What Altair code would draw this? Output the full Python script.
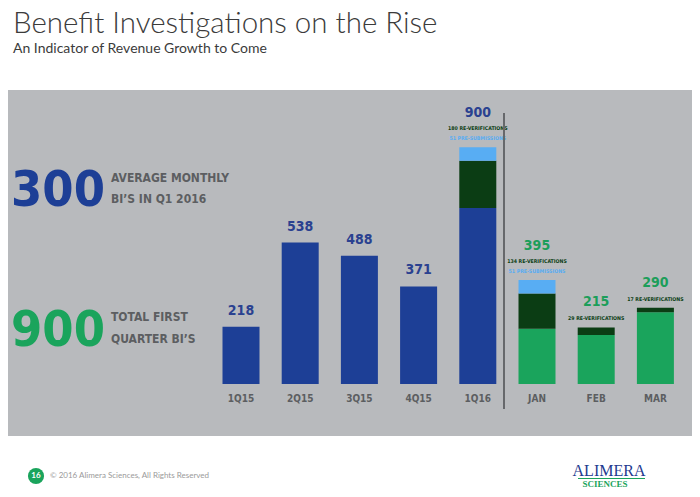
import altair as alt
import pandas as pd

# ---- data ----
categories = ["1Q15", "2Q15", "3Q15", "4Q15", "1Q16", "JAN", "FEB", "MAR"]
groups = ["quarter", "quarter", "quarter", "quarter", "quarter", "month", "month", "month"]
totals = [218, 538, 488, 371, 900, 395, 215, 290]
re_verifications = [0, 0, 0, 0, 180, 134, 29, 17]
pre_submissions = [0, 0, 0, 0, 51, 51, 0, 0]

title_text = "Benefit Investigations on the Rise"
subtitle_text = "An Indicator of Revenue Growth to Come"
footer_text = "\u00a9 2016 Alimera Sciences, All Rights Reserved"
page_number = "16"

# ---- styles ----
NARROW = "DejaVu Sans Condensed, Roboto, sans-serif"
LIGHT = "Lato, Open Sans, sans-serif"
SERIF = "Liberation Serif, DejaVu Serif, serif"
BLUE = "#1d3f96"
BLUE_TXT = "#2a4190"
DKGREEN = "#0b3d14"
LTGREEN = "#1aa45c"
GREEN_TXT = "#1c9e5a"
LTBLUE = "#58adf3"
GRAY_BG = "#b8babd"
GRAY_TXT = "#5c5e61"

W, H = 684, 481
Y_DOMAIN = [0, 1000]
Y_RANGE = [376, 113]
units_per_px = (Y_DOMAIN[1] - Y_DOMAIN[0]) / (Y_RANGE[0] - Y_RANGE[1])

x_scale = alt.Scale(domain=categories, range=[203.4, 677.0], paddingInner=0.375, paddingOuter=0.1875)
y_scale = alt.Scale(domain=Y_DOMAIN, range=Y_RANGE)

# ---- segment table ----
rows = []
for c, g, t, r, p in zip(categories, groups, totals, re_verifications, pre_submissions):
    base = t - r - p
    seg_base = "Quarterly BIs" if g == "quarter" else "Monthly BIs"
    rows.append({"cat": c, "seg": seg_base, "y0": 0, "y1": base})
    if r:
        rows.append({"cat": c, "seg": "Re-verifications", "y0": base, "y1": base + r})
    if p:
        rows.append({"cat": c, "seg": "Pre-submissions", "y0": base + r, "y1": t})
seg_df = pd.DataFrame(rows)

# ---- label table ----
lab_rows = []
for c, g, t, r, p in zip(categories, groups, totals, re_verifications, pre_submissions):
    n_sub = int(r > 0) + int(p > 0)
    lab_rows.append({"cat": c, "kind": "total_" + g, "text": str(t),
                     "ly": t + (16 + 9 * n_sub) * units_per_px})
    if r:
        lab_rows.append({"cat": c, "kind": "re", "text": f"{r} RE-VERIFICATIONS",
                         "ly": t + (9 + 10 * int(p > 0)) * units_per_px})
    if p:
        lab_rows.append({"cat": c, "kind": "pre", "text": f"{p} PRE-SUBMISSIONS",
                         "ly": t + 9 * units_per_px})
lab_df = pd.DataFrame(lab_rows)
cat_df = pd.DataFrame({"cat": categories})

q1_total = sum(t for t, g in zip(totals, groups) if g == "month")
q1_months = sum(1 for g in groups if g == "month")
q1_avg = q1_total // q1_months

one = pd.DataFrame({"k": [0]})

# ---- layers ----
bg = alt.Chart(one).mark_rect(color=GRAY_BG).encode(
    x=alt.value(0), x2=alt.value(W), y=alt.value(82), y2=alt.value(428))

bars = alt.Chart(seg_df).mark_bar().encode(
    x=alt.X("cat:N", scale=x_scale, axis=None),
    y=alt.Y("y0:Q", scale=y_scale, axis=None),
    y2="y1:Q",
    color=alt.Color("seg:N", legend=None, scale=alt.Scale(
        domain=["Quarterly BIs", "Monthly BIs", "Re-verifications", "Pre-submissions"],
        range=[BLUE, LTGREEN, DKGREEN, LTBLUE])),
)

def label_layer(kind, color, size):
    return alt.Chart(lab_df).transform_filter(alt.datum.kind == kind).mark_text(
        font=NARROW, fontWeight="bold", fontSize=size, color=color, baseline="middle", align="center"
    ).encode(x=alt.X("cat:N", scale=x_scale, axis=None),
             y=alt.Y("ly:Q", scale=y_scale, axis=None), text="text:N")

lab_q = label_layer("total_quarter", BLUE_TXT, 14)
lab_m = label_layer("total_month", GREEN_TXT, 14)
lab_re = label_layer("re", DKGREEN, 5.2)
lab_pre = label_layer("pre", LTBLUE, 5.2)

cat_labels = alt.Chart(cat_df).mark_text(
    font=NARROW, fontWeight="bold", fontSize=10, color=GRAY_TXT, baseline="middle"
).encode(x=alt.X("cat:N", scale=x_scale, axis=None), y=alt.value(391), text="cat:N")

sep = alt.Chart(one).mark_rule(color="#66686b", strokeWidth=2).encode(
    x=alt.value(496), y=alt.value(105), y2=alt.value(401))

# title + subtitle
title = alt.Chart(one).mark_text(
    text=title_text, font=LIGHT, fontWeight=300, fontSize=29.5, color="#3b3b3b",
    align="left", baseline="alphabetic").encode(x=alt.value(5), y=alt.value(25))
subtitle = alt.Chart(one).mark_text(
    text=subtitle_text, font=LIGHT, fontWeight=400, fontSize=14, color="#3b3b3b",
    align="left", baseline="alphabetic").encode(x=alt.value(5), y=alt.value(45))

# left call-outs
big_df = pd.DataFrame({
    "num": [str(q1_avg), str(q1_total)],
    "l1": ["AVERAGE MONTHLY", "TOTAL FIRST"],
    "l2": ["BI\u2019S IN Q1 2016", "QUARTER BI\u2019S"],
    "which": ["avg", "total"],
})
big_avg = alt.Chart(big_df).transform_filter(alt.datum.which == "avg").mark_text(
    font=NARROW, fontWeight="bold", fontSize=50, color=BLUE, align="center", baseline="middle"
).encode(x=alt.value(50), y=alt.value(183), text="num:N")
big_tot = alt.Chart(big_df).transform_filter(alt.datum.which == "total").mark_text(
    font=NARROW, fontWeight="bold", fontSize=50, color=LTGREEN, align="center", baseline="middle"
).encode(x=alt.value(50), y=alt.value(323), text="num:N")

def side(which, field, yv):
    return alt.Chart(big_df).transform_filter(alt.datum.which == which).mark_text(
        font=NARROW, fontWeight="bold", fontSize=12, color=GRAY_TXT, align="left", baseline="middle"
    ).encode(x=alt.value(103), y=alt.value(yv), text=f"{field}:N")

side_layers = [side("avg", "l1", 170), side("avg", "l2", 191),
               side("total", "l1", 309), side("total", "l2", 331)]

# footer
circle = alt.Chart(one).mark_circle(color=LTGREEN, opacity=1, size=260).encode(
    x=alt.value(28), y=alt.value(468))
pnum = alt.Chart(one).mark_text(text=page_number, font=LIGHT, fontWeight="bold", fontSize=8,
                                color="white", baseline="middle").encode(x=alt.value(28), y=alt.value(468))
foot = alt.Chart(one).mark_text(text=footer_text, font=LIGHT, fontSize=8, color="#9a9a9a",
                                align="left", baseline="middle").encode(x=alt.value(42), y=alt.value(468))
logo1 = alt.Chart(one).mark_text(text="ALIMERA", font=SERIF,
                                 fontSize=16, color="#1e3a8f", align="center", baseline="alphabetic"
                                 ).encode(x=alt.value(601), y=alt.value(468))
logo_line = alt.Chart(one).mark_rule(color=LTGREEN, strokeWidth=1.2).encode(
    x=alt.value(570), x2=alt.value(637), y=alt.value(470.5))
logo2 = alt.Chart(one).mark_text(text="SCIENCES", font=SERIF,
                                 fontSize=9, fontWeight="bold", color=LTGREEN, align="center",
                                 baseline="alphabetic").encode(x=alt.value(597), y=alt.value(478.5))

chart = alt.layer(
    bg, bars, lab_q, lab_m, lab_re, lab_pre, cat_labels, sep, title, subtitle,
    big_avg, big_tot, *side_layers, circle, pnum, foot, logo1, logo_line, logo2
).properties(
    width=W, height=H, padding=0, autosize=alt.AutoSizeParams(type="none"),
    background="white"
).configure_view(stroke=None)

chart.save("out.html", embed_options={"renderer": "svg", "actions": False})
